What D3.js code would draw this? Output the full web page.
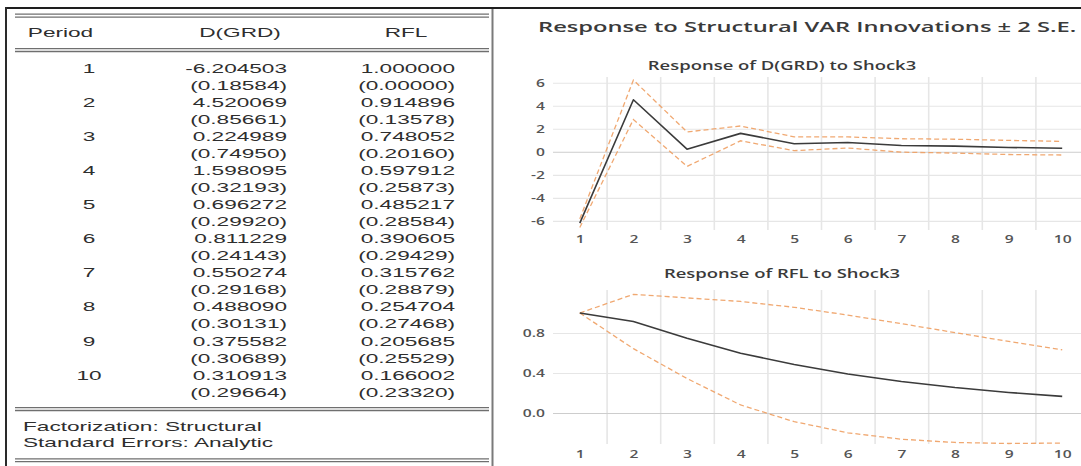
<!DOCTYPE html>
<html>
<head>
<meta charset="utf-8">
<script src="https://cdn.jsdelivr.net/npm/d3@7"></script>
<style>
  html, body { margin: 0; padding: 0; background: #fff; }
  svg { display: block; }
  .tbl { font-family: "Liberation Sans", Arial, sans-serif; font-size: 13px; fill: #2e2e2e; }
  .ct  { font-family: "Open Sans", "Noto Sans", sans-serif; fill: #3a3a3a; }
</style>
</head>
<body>
<svg id="chart" width="1081" height="466"></svg>
<script>
// Impulse responses of the structural VAR (shock 3) with analytic standard errors
const periods      = [1, 2, 3, 4, 5, 6, 7, 8, 9, 10];
const grdResponse  = [-6.204503, 4.520069, 0.224989, 1.598095, 0.696272, 0.811229, 0.550274, 0.488090, 0.375582, 0.310913];
const grdStdErr    = [0.18584, 0.85661, 0.74950, 0.32193, 0.29920, 0.24143, 0.29168, 0.30131, 0.30689, 0.29664];
const rflResponse  = [1.000000, 0.914896, 0.748052, 0.597912, 0.485217, 0.390605, 0.315762, 0.254704, 0.205685, 0.166002];
const rflStdErr    = [0.00000, 0.13578, 0.20160, 0.25873, 0.28584, 0.29429, 0.28879, 0.27468, 0.25529, 0.23320];

const tableHeaders = ["Period", "D(GRD)", "RFL"];
const tableNotes   = ["Factorization: Structural", "Standard Errors: Analytic"];
const chartTitle   = "Response to Structural VAR Innovations \u00B1 2 S.E.";
const panelTitles  = ["Response of D(GRD) to Shock3", "Response of RFL to Shock3"];
const grdTicks     = [-6, -4, -2, 0, 2, 4, 6];
const rflTicks     = [0.0, 0.4, 0.8];

const svg = d3.select("#chart");
svg.append("rect").attr("width", 1081).attr("height", 466).attr("fill", "#fff");

// horizontal stretch of the glyphs
const TABLE_SX = 1.74;
const CHART_SX = 1.42;
const TITLE_SX = 1.58;

const fixed = (digits) => (v) => v.toFixed(digits);   // plain hyphen-minus for negatives
const fmt6 = fixed(6), fmt5 = fixed(5);

function label(g, x, y, str, anchor, sx, cls) {
  return g.append("text")
    .attr("class", cls)
    .attr("transform", `translate(${x},${y}) scale(${sx},1)`)
    .attr("text-anchor", anchor)
    .text(str);
}

// ---------- output table ----------
const table = svg.append("g");

// outer frame
table.append("line").attr("x1", 5).attr("x2", 1081).attr("y1", 8).attr("y2", 8)
  .attr("stroke", "#1e1e1e").attr("stroke-width", 2);
table.append("line").attr("x1", 6).attr("x2", 6).attr("y1", 7).attr("y2", 466)
  .attr("stroke", "#2a2a2a").attr("stroke-width", 2);
table.append("line").attr("x1", 492.5).attr("x2", 492.5).attr("y1", 9).attr("y2", 466)
  .attr("stroke", "#7a7a7a").attr("stroke-width", 2);

// double rules
[14.2, 48.6, 407.6, 458.8].forEach(y0 => {
  [y0, y0 + 2.9].forEach(yy => {
    table.append("line").attr("x1", 15).attr("x2", 489).attr("y1", yy).attr("y2", yy)
      .attr("stroke", "#6f6f6f").attr("stroke-width", 1.3);
  });
});

// header
const headerX = [60.5, 240, 406];
tableHeaders.forEach((h, i) => label(table, headerX[i], 37, h, "middle", TABLE_SX, "tbl"));

// body rows: value line followed by standard-error line
const rowY = d3.scaleLinear().domain([0, 19]).range([72.7, 396.7]);
periods.forEach((p, i) => {
  const yv = rowY(2 * i), ys = rowY(2 * i + 1);
  label(table, 89, yv, String(p), "middle", TABLE_SX, "tbl");
  label(table, 287, yv, fmt6(grdResponse[i]), "end", TABLE_SX, "tbl");
  label(table, 455, yv, fmt6(rflResponse[i]), "end", TABLE_SX, "tbl");
  label(table, 287, ys, "(" + fmt5(grdStdErr[i]) + ")", "end", TABLE_SX, "tbl");
  label(table, 455, ys, "(" + fmt5(rflStdErr[i]) + ")", "end", TABLE_SX, "tbl");
});

tableNotes.forEach((t, i) => label(table, 23, 430.5 + i * 16, t, "start", TABLE_SX, "tbl"));

// ---------- impulse response panels ----------
const plotLeft = 553, plotRight = 1089;
const x = d3.scaleLinear().domain([0.5, 10.5]).range([plotLeft, plotRight]);
const gridX = [1.5, 2.5, 3.5, 4.5, 5.5, 6.5, 7.5, 8.5, 9.5];

label(svg, 538, 32, chartTitle, "start", TITLE_SX, "ct")
  .attr("font-size", 15).attr("font-weight", 600).attr("fill", "#3a3a3a");

function drawPanel(cfg) {
  const g = svg.append("g");
  const y = d3.scaleLinear().domain(cfg.domain).range([cfg.bottom, cfg.top]);

  label(g, 782, cfg.titleY, cfg.title, "middle", CHART_SX, "ct")
    .attr("font-size", 13).attr("font-weight", 600).attr("fill", "#444");

  // vertical grid between periods
  const vg = g.append("g").attr("transform", `translate(0,${cfg.bottom})`)
    .call(d3.axisBottom(x).tickValues(gridX).tickSize(-(cfg.bottom - cfg.top)).tickFormat(""));
  vg.select(".domain").remove();
  vg.selectAll("line").attr("stroke", "#e6e6e6").attr("stroke-width", 1.6);

  // horizontal grid + value labels
  const hg = g.append("g").attr("transform", `translate(${plotLeft},0)`)
    .call(d3.axisLeft(y).tickValues(cfg.ticks).tickSize(-(plotRight - plotLeft)).tickFormat(cfg.fmt));
  hg.select(".domain").remove();
  hg.selectAll("line")
    .attr("stroke", d => d === 0 ? "#cdcdcd" : "#e6e6e6")
    .attr("stroke-width", 1.2);
  hg.selectAll("text")
    .attr("x", 0).attr("dy", "0.35em")
    .attr("transform", `translate(-8,0) scale(${CHART_SX},1)`)
    .attr("font-family", "'Open Sans', sans-serif").attr("font-size", 11)
    .attr("font-weight", 600).attr("fill", "#555");

  // period labels
  const xg = g.append("g").attr("transform", `translate(0,${cfg.labelY})`)
    .call(d3.axisBottom(x).tickValues(periods).tickSize(0).tickFormat(d3.format("d")));
  xg.select(".domain").remove();
  xg.selectAll("text")
    .attr("y", 0).attr("dy", 0)
    .attr("transform", `scale(${CHART_SX},1)`)
    .attr("font-family", "'Open Sans', sans-serif").attr("font-size", 11)
    .attr("font-weight", 600).attr("fill", "#555");

  const line = d3.line().x((d, i) => x(periods[i])).y(d => y(d));
  const upper = cfg.resp.map((v, i) => v + 2 * cfg.se[i]);
  const lower = cfg.resp.map((v, i) => v - 2 * cfg.se[i]);

  [upper, lower].forEach(band => {
    g.append("path").datum(band).attr("d", line)
      .attr("fill", "none").attr("stroke", "#ee9f62").attr("stroke-width", 1.3)
      .attr("stroke-dasharray", "5,3").attr("stroke-opacity", 0.9);
  });
  g.append("path").datum(cfg.resp).attr("d", line)
    .attr("fill", "none").attr("stroke", "#3b3b3b").attr("stroke-width", 1.6)
    .attr("stroke-linejoin", "round");
}

drawPanel({
  title: panelTitles[0], titleY: 70,
  domain: [-6.8, 6.5], top: 77, bottom: 230,
  ticks: grdTicks, fmt: d => String(d),
  resp: grdResponse, se: grdStdErr, labelY: 242.5
});

drawPanel({
  title: panelTitles[1], titleY: 278,
  domain: [-0.31, 1.23], top: 290, bottom: 444,
  ticks: rflTicks, fmt: d => d.toFixed(1),
  resp: rflResponse, se: rflStdErr, labelY: 458
});
</script>
</body>
</html>
